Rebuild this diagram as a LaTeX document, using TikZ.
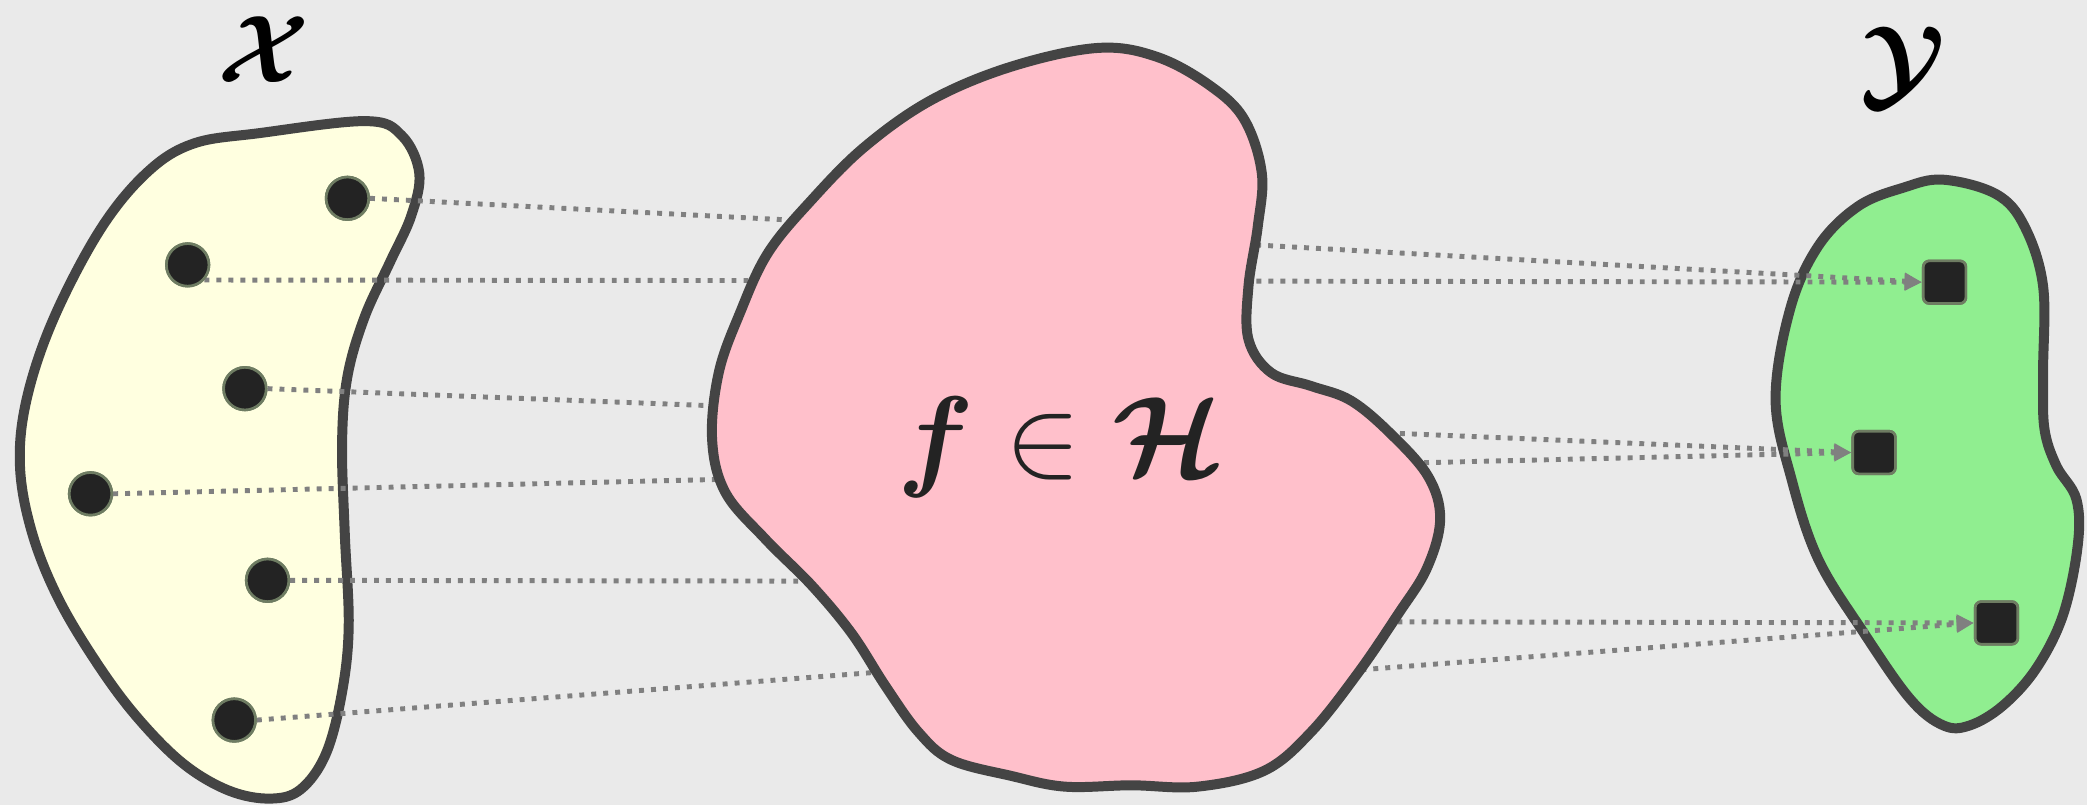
\documentclass[tikz,border=0pt]{standalone}
\usepackage{amsmath,bm}
\usetikzlibrary{arrows.meta}
\definecolor{bgc}{HTML}{EAEAEA}
\definecolor{yel}{HTML}{FFFFE0}
\definecolor{pnk}{HTML}{FFC0CB}
\definecolor{grn}{HTML}{90EE90}
\definecolor{edge}{HTML}{444444}
\definecolor{ptfill}{HTML}{232323}
\definecolor{ptedge}{HTML}{6E7C62}
\definecolor{lnc}{HTML}{808080}
\tikzset{
  blob/.style={draw=edge,line width=7.5pt,line join=round},
  pt/.style={circle,fill=ptfill,draw=ptedge,line width=2pt,minimum size=32pt,inner sep=0pt},
  sq/.style={rectangle,rounded corners=4.5pt,fill=ptfill,draw=ptedge,line width=2pt,minimum size=32pt,inner sep=0pt},
  link/.style={draw=lnc,line width=3.7pt,dash pattern=on 3.7pt off 5.3pt},
  arr/.style={link,-{Triangle[length=13pt,width=12pt]}},
  lbl/.style={inner sep=0pt,outer sep=0pt},
}
\begin{document}
\begin{tikzpicture}[x=1pt,y=-1pt]
\fill[bgc] (0,0) rectangle (1568,605);
\useasboundingbox (0,0) rectangle (1568,605);
% X blob
\draw[blob,fill=yel] plot[smooth cycle,tension=0.6] coordinates {
 (195,100) (275,91) (302,102) (315,130) (309,162) (293,197) (274,238) (261,283) (257,333) (259,400) (262,470) (257,520) (245,566) (226,593) (203,600) (172,594) (138,574) (104,540) (74,500) (44,450) (24,400) (15,350) (20,300) (40,240) (75,173) (110,130) (145,108)};
% Y blob
\draw[blob,fill=grn] plot[smooth cycle,tension=0.6] coordinates {
 (1460,135) (1500,146) (1521,170) (1535,215) (1535,280) (1536,322) (1545,350) (1560,375) (1561,410) (1550,462) (1530,502) (1505,530) (1480,545) (1460,545) (1435,525) (1400,475) (1366,420) (1346,360) (1334,300) (1345,232) (1366,185) (1396,155) (1430,141)};
% points
\node[pt] (p1) at (261,149) {};
\node[pt] (p2) at (141,199) {};
\node[pt] (p3) at (184,292) {};
\node[pt] (p4) at (68,371) {};
\node[pt] (p5) at (201,436) {};
\node[pt] (p6) at (176,541) {};
\node[sq] (s1) at (1461,212) {};
\node[sq] (s2) at (1408,340) {};
\node[sq] (s3) at (1500,468) {};
% hidden joints inside f region
\coordinate (a1) at (800,176);
\coordinate (a2) at (800,211);
\coordinate (a3) at (800,315);
\coordinate (a4) at (800,354);
\coordinate (a5) at (880,437);
\coordinate (a6) at (880,488);
\coordinate (b5) at (960,467);
\coordinate (b6) at (960,508);
% links
\draw[link] (p1.east) -- (a1);
\draw[link] (p2.-42) -- (a2);
\draw[link] (p3.east) -- (a3);
\draw[link] (p4.east) -- (a4);
\draw[link] (p5.east) -- (a5) -- (b5);
\draw[link] (p6.east) -- (a6) -- (b6);
\draw[arr] (a1) -- (s1.west);
\draw[arr] (a2) -- (s1.west);
\draw[arr] (a3) -- (s2.west);
\draw[arr] (a4) -- (s2.west);
\draw[arr] (b5) -- (s3.west);
\draw[arr] (b6) -- (s3.west);
% pink blob
\draw[blob,fill=pnk] plot[smooth cycle,tension=0.6] coordinates {
 (825,36) (870,43) (910,65) (935,90) (948,130) (945,170) (938,215) (938,255) (955,280) (985,290) (1015,301) (1045,326) (1073,358) (1082,390) (1072,427) (1050,462) (1020,506) (985,550) (950,579) (900,591) (850,590) (800,591) (760,583) (715,571) (690,550) (665,515) (640,476) (610,440) (575,405) (545,370) (535,330) (540,280) (556,235) (577,190) (610,150) (650,110) (700,75) (760,50)};
% redraw points on top
\foreach \n in {p1,p2,p3,p4,p5,p6} \node[pt] at (\n) {};
\foreach \n in {s1,s2,s3} \node[sq] at (\n) {};
% labels
\node[lbl,scale=7.2] (lx) at (198,37) {$\bm{\mathcal{X}}$};
\node[lbl,scale=7.6] (ly) at (1430,50) {$\bm{\mathcal{Y}}$};
\node[lbl,text=ptfill,scale=8.5] (lf) at (797,336) {$\bm{f}\in\bm{\mathcal{H}}$};
\end{tikzpicture}
\end{document}
